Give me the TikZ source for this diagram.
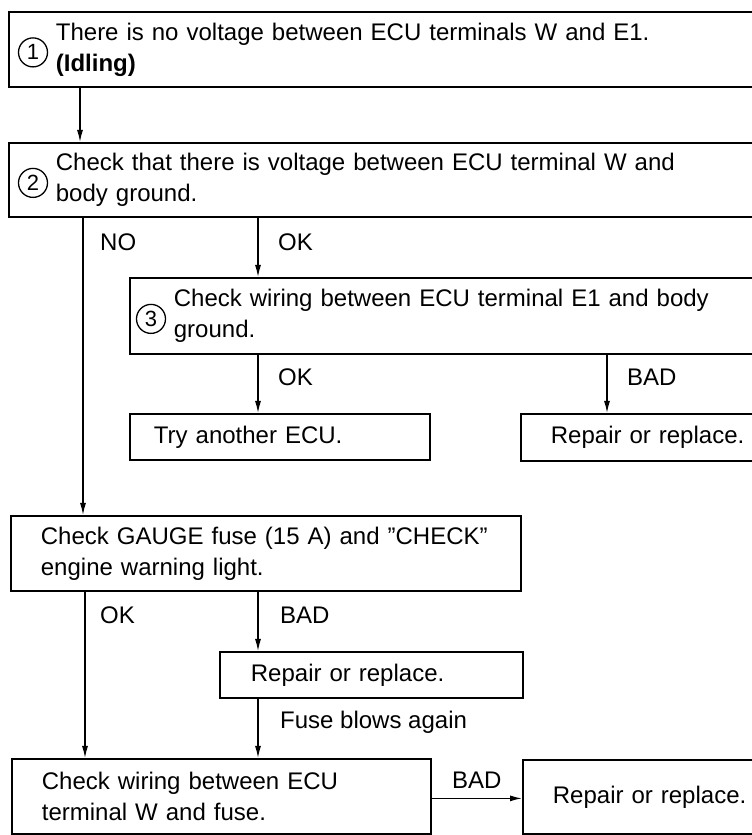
\documentclass[tikz,border=0pt]{standalone}
\usepackage{fontspec}
\setmainfont{Liberation Sans}
\usetikzlibrary{arrows.meta}

\tikzset{
  box/.style={draw, line width=1.8pt, anchor=north west, align=left, inner ysep=0pt},
  num/.style={draw, circle, line width=1.3pt, minimum size=29pt, inner sep=0pt,
    font=\fontsize{22}{22}\selectfont},
  lab/.style={anchor=west, inner sep=0pt},
  arr/.style={line width=1.3pt, -{Latex[length=12pt,width=6pt]}},
}

\begin{document}
\begin{tikzpicture}[x=1pt, y=1pt, font=\fontsize{24}{31}\selectfont]
  \useasboundingbox (0,0) rectangle (752,835);

  % columns of the vertical connectors
  \coordinate (xa) at (80,0);
  \coordinate (xno) at (83,0);
  \coordinate (xok) at (258,0);
  \coordinate (xbad) at (607,0);
  \coordinate (xok2) at (85,0);

  % boxes on the right run off the page, as in the scan
  \node[box, text width=700pt, inner xsep=47pt, minimum height=75pt] (q1) at (8,824)
    {There is no voltage between ECU terminals W and E1.\\\textbf{(Idling)}};
  \node[box, text width=700pt, inner xsep=47pt, minimum height=74pt] (q2) at (8,693)
    {Check that there is voltage between ECU terminal W and\\body ground.};
  \node[box, text width=560pt, inner xsep=44pt, minimum height=76pt] (q3) at (129,558)
    {Check wiring between ECU terminal E1 and body\\ground.};
  \node[box, text width=252pt, inner xsep=24pt, minimum height=46pt] (tryecu) at (129,422)
    {Try another ECU.};
  \node[box, text width=220pt, inner xsep=30pt, minimum height=47pt] (rep1) at (520,422)
    {Repair or replace.};
  \node[box, text width=450pt, inner xsep=30pt, minimum height=75pt] (q4) at (10,320)
    {Check GAUGE fuse (15 A) and ''CHECK''\\engine warning light.};
  \node[box, text width=241pt, inner xsep=31pt, minimum height=46pt] (rep2) at (219,184)
    {Repair or replace.};
  \node[box, text width=359pt, inner xsep=30pt, minimum height=75pt] (q5) at (11,77)
    {Check wiring between ECU\\terminal W and fuse.};
  \node[box, text width=220pt, inner xsep=30pt, minimum height=74pt] (rep3) at (522,76)
    {Repair or replace.};

  \node[num] (n1) at ([xshift=25pt,yshift=-3pt]q1.west) {1};
  \node[num] (n2) at ([xshift=25pt,yshift=-3pt]q2.west) {2};
  \node[num] (n3) at ([xshift=22pt,yshift=-3pt]q3.west) {3};

  \draw[arr] (q1.south -| xa) -- (q2.north -| xa);
  \draw[arr] (q2.south -| xno) -- (q4.north -| xno);
  \draw[arr] (q2.south -| xok) -- (q3.north -| xok);
  \draw[arr] (q3.south -| xok) -- (tryecu.north -| xok);
  \draw[arr] (q3.south -| xbad) -- (rep1.north -| xbad);
  \draw[arr] (q4.south -| xok2) -- (q5.north -| xok2);
  \draw[arr] (q4.south -| xok) -- (rep2.north -| xok);
  \draw[arr] (rep2.south -| xok) -- (q5.north -| xok);
  \draw[arr] ([yshift=-2pt]q5.east) -- ([yshift=-2pt]q5.east -| rep3.west);

  \node[lab] (lno) at (100,593) {NO};
  \node[lab] (lok1) at (278,593) {OK};
  \node[lab] (lok2) at (278,458) {OK};
  \node[lab] (lbad1) at (627,458) {BAD};
  \node[lab] (lok3) at (100,220) {OK};
  \node[lab] (lbad2) at (280,220) {BAD};
  \node[lab] (lfuse) at (280,113) {Fuse blows again};
  \node[lab] (lbad3) at (452,55) {BAD};
\end{tikzpicture}
\end{document}
